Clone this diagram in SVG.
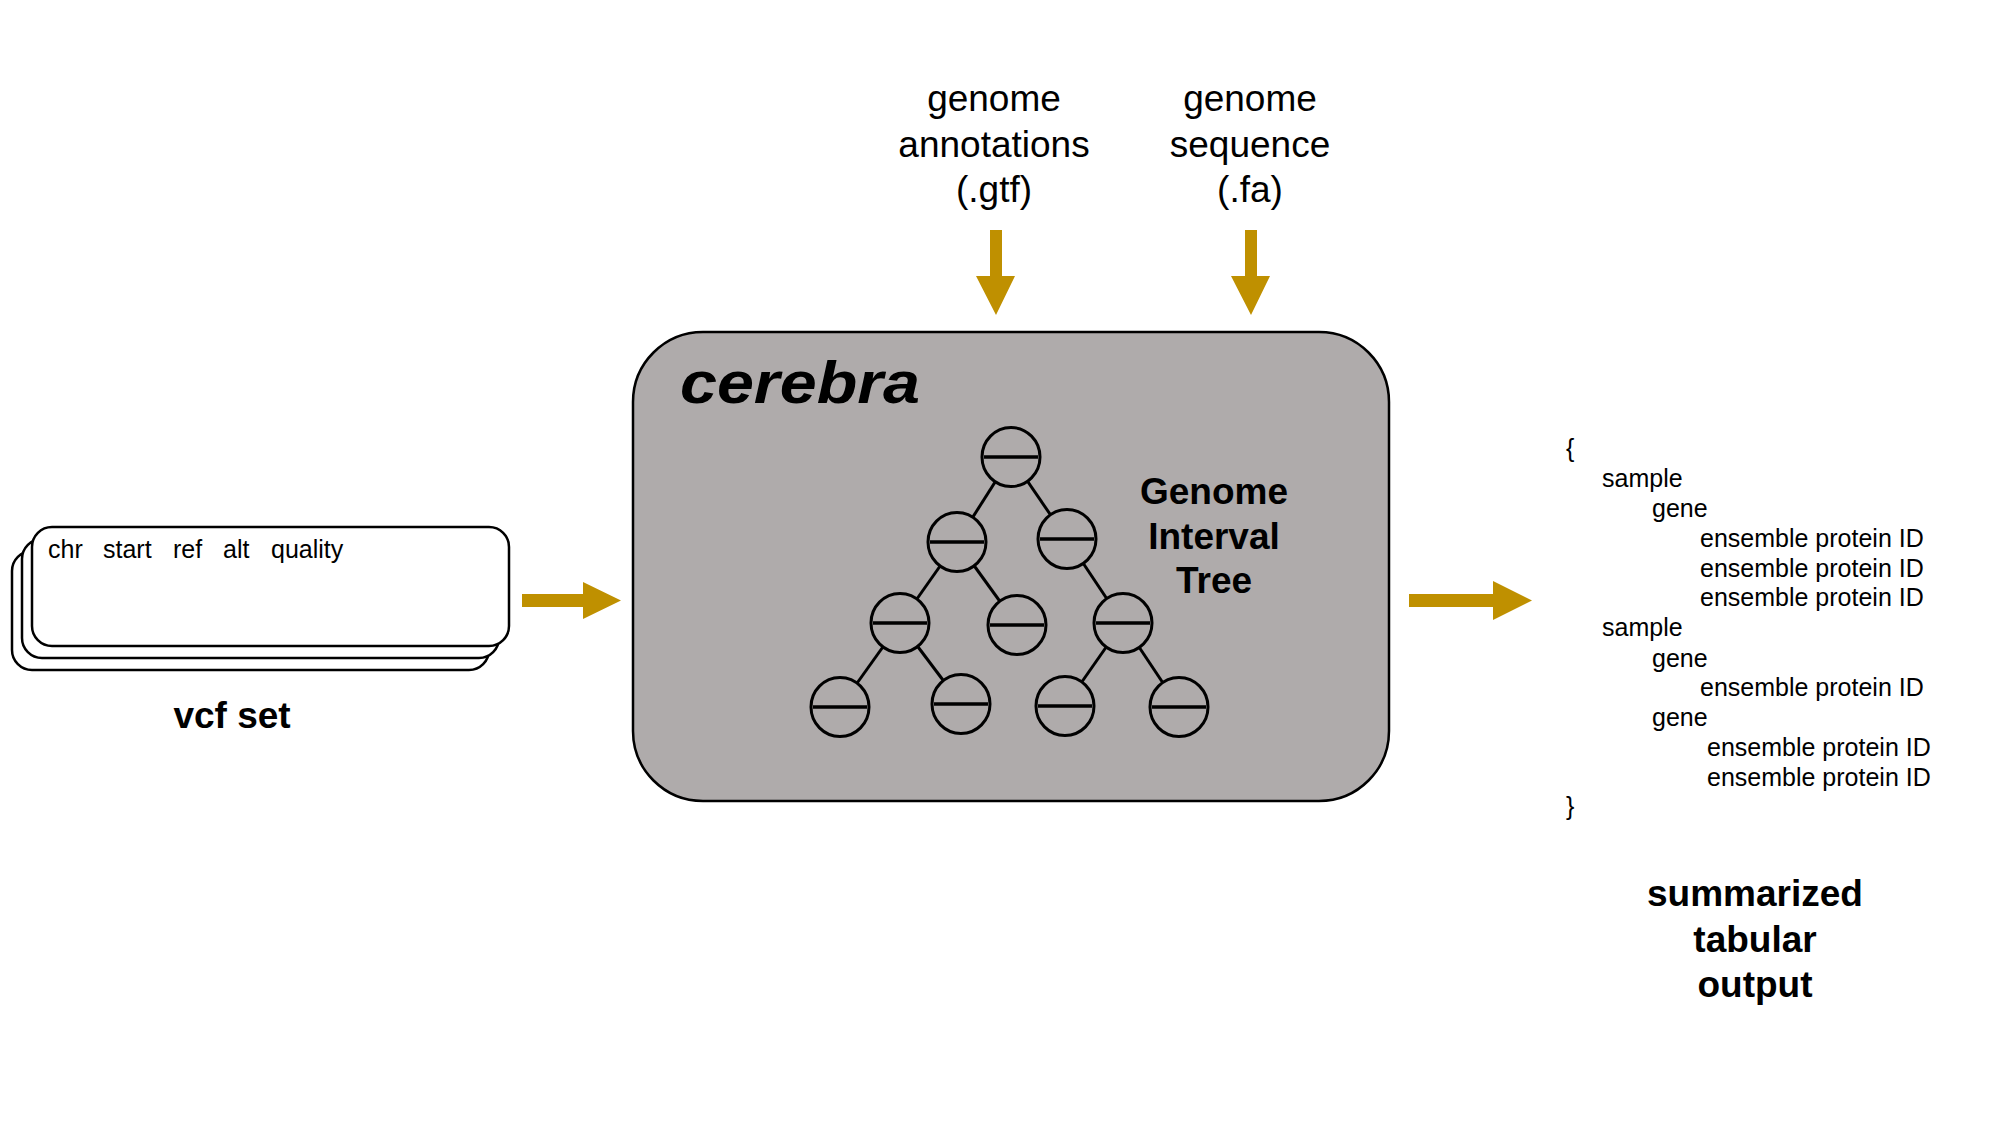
<svg xmlns="http://www.w3.org/2000/svg" width="2000" height="1125" viewBox="0 0 2000 1125">
  <defs>
    <style>
      .t { font-family: "Liberation Sans", Arial, sans-serif; fill: #000; }
      .reg { font-size: 25px; }
      .lbl { font-size: 37px; }
      .bold { font-size: 37px; font-weight: bold; }
      .card { fill: #fff; stroke: #000; stroke-width: 2.5; }
      .arrow { fill: #BF9000; stroke: none; }
      .tnode { fill: #afabab; stroke: #000; stroke-width: 3; }
      .tbar { stroke: #000; stroke-width: 3.5; }
      .tedge { stroke: #000; stroke-width: 3; }
    </style>
    <g id="treeNode">
      <ellipse class="tnode" cx="0" cy="0" rx="29" ry="29.5"/>
      <line class="tbar" x1="-27" y1="0" x2="27" y2="0"/>
    </g>
  </defs>

  <rect width="2000" height="1125" fill="#fff"/>

  <!-- vcf set node -->
  <g id="vcf-set">
    <rect class="card" x="12" y="551" width="477" height="119" rx="20" ry="20"/>
    <rect class="card" x="22" y="539" width="477" height="119" rx="20" ry="20"/>
    <rect class="card" x="32" y="527" width="477" height="119" rx="20" ry="20"/>
    <text class="t reg" y="558"><tspan x="48">chr</tspan><tspan x="103">start</tspan><tspan x="173">ref</tspan><tspan x="223">alt</tspan><tspan x="271">quality</tspan></text>
    <text class="t bold" x="232" y="728" text-anchor="middle">vcf set</text>
  </g>

  <!-- genome annotations input -->
  <g id="genome-annotations">
    <text class="t lbl" text-anchor="middle"><tspan x="994" y="111">genome</tspan><tspan x="994" y="157">annotations</tspan><tspan x="994" y="202">(.gtf)</tspan></text>
  </g>

  <!-- genome sequence input -->
  <g id="genome-sequence">
    <text class="t lbl" text-anchor="middle"><tspan x="1250" y="111">genome</tspan><tspan x="1250" y="157">sequence</tspan><tspan x="1250" y="202">(.fa)</tspan></text>
  </g>

  <!-- cerebra node -->
  <g id="cerebra">
    <rect x="633" y="332" width="756" height="469" rx="70" ry="70" fill="#afabab" stroke="#000" stroke-width="2.5"/>
    <text class="t" x="680" y="403" font-size="60" font-weight="bold" font-style="italic" textLength="240" lengthAdjust="spacingAndGlyphs">cerebra</text>
    <g id="interval-tree">
      <g id="tree-edges">
        <line class="tedge" x1="1011" y1="457" x2="957" y2="542"/>
        <line class="tedge" x1="1011" y1="457" x2="1067" y2="539"/>
        <line class="tedge" x1="957" y1="542" x2="900" y2="623"/>
        <line class="tedge" x1="957" y1="542" x2="1017" y2="625"/>
        <line class="tedge" x1="1067" y1="539" x2="1123" y2="623"/>
        <line class="tedge" x1="900" y1="623" x2="840" y2="707"/>
        <line class="tedge" x1="900" y1="623" x2="961" y2="704"/>
        <line class="tedge" x1="1123" y1="623" x2="1065" y2="706"/>
        <line class="tedge" x1="1123" y1="623" x2="1179" y2="707"/>
      </g>
      <use href="#treeNode" x="1011" y="457"/>
      <use href="#treeNode" x="957" y="542"/>
      <use href="#treeNode" x="1067" y="539"/>
      <use href="#treeNode" x="900" y="623"/>
      <use href="#treeNode" x="1017" y="625"/>
      <use href="#treeNode" x="1123" y="623"/>
      <use href="#treeNode" x="840" y="707"/>
      <use href="#treeNode" x="961" y="704"/>
      <use href="#treeNode" x="1065" y="706"/>
      <use href="#treeNode" x="1179" y="707"/>
    </g>
    <text class="t bold" text-anchor="middle"><tspan x="1214" y="504">Genome</tspan><tspan x="1214" y="549">Interval</tspan><tspan x="1214" y="593">Tree</tspan></text>
  </g>

  <!-- output node -->
  <g id="summarized-output">
    <text class="t reg"><tspan x="1566" y="457">{</tspan><tspan x="1602" y="487">sample</tspan><tspan x="1652" y="517">gene</tspan><tspan x="1700" y="547">ensemble protein ID</tspan><tspan x="1700" y="577">ensemble protein ID</tspan><tspan x="1700" y="606">ensemble protein ID</tspan><tspan x="1602" y="636">sample</tspan><tspan x="1652" y="667">gene</tspan><tspan x="1700" y="696">ensemble protein ID</tspan><tspan x="1652" y="726">gene</tspan><tspan x="1707" y="756">ensemble protein ID</tspan><tspan x="1707" y="786">ensemble protein ID</tspan><tspan x="1566" y="815">}</tspan></text>
    <text class="t bold" text-anchor="middle"><tspan x="1755" y="906">summarized</tspan><tspan x="1755" y="952">tabular</tspan><tspan x="1755" y="997">output</tspan></text>
  </g>

  <!-- connectors -->
  <g id="connectors">
    <polygon class="arrow" points="522,594 583,594 583,582 621,600.5 583,619 583,607 522,607"/>
    <polygon class="arrow" points="1409,594 1493,594 1493,581 1532,600.5 1493,620 1493,607 1409,607"/>
    <polygon class="arrow" points="990,230 1002,230 1002,276 1015,276 996,315 976,276 990,276"/>
    <polygon class="arrow" points="1245,230 1257,230 1257,276 1270,276 1251,315 1231,276 1245,276"/>
  </g>
</svg>
